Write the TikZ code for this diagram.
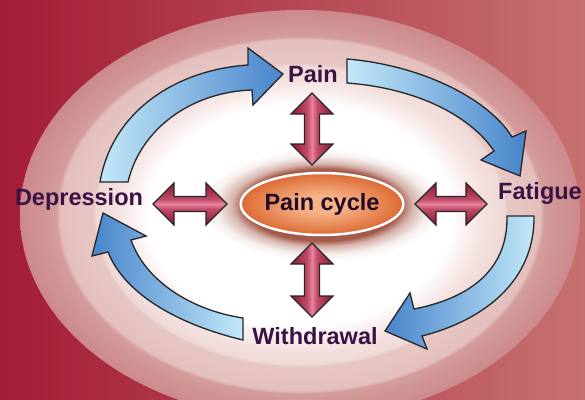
\documentclass[tikz,border=0pt]{standalone}
\usepackage{fontspec}
\setsansfont{Liberation Sans}
\usetikzlibrary{shapes.geometric}
\definecolor{ink}{HTML}{3A1244}
\definecolor{bgdark}{HTML}{A41C36}
\definecolor{bglight}{HTML}{C6716F}
\definecolor{ringA}{HTML}{D39C9B}
\definecolor{ringB}{HTML}{E6C6C3}
\definecolor{ringC}{HTML}{F3E1DF}
\definecolor{bluelt}{HTML}{C2E8F8}
\definecolor{bluedk}{HTML}{4784CB}
\definecolor{reddk}{HTML}{9C1F3C}
\definecolor{redpk}{HTML}{E8829F}
\definecolor{cycA}{HTML}{F6B286}
\definecolor{cycB}{HTML}{DC6A34}
\definecolor{halo}{HTML}{A45A4A}

% soft rings behind the cycle (path box = +-25bp)
\pgfdeclareradialshading{rings}{\pgfpoint{0bp}{0bp}}{%
  color(0bp)=(white); color(13.5bp)=(white); color(16.5bp)=(ringC);
  color(18.2bp)=(ringC!70!ringB); color(18.5bp)=(ringB); color(21.4bp)=(ringB!85!ringA);
  color(21.8bp)=(ringA); color(25bp)=(ringA!85!bgdark); color(50bp)=(ringA!85!bgdark)}
\pgfdeclareradialshading{cychalo}{\pgfpoint{0bp}{0bp}}{%
  color(0bp)=(halo); color(16bp)=(halo); color(18.5bp)=(halo!45!white);
  color(22bp)=(halo!10!white); color(25bp)=(white); color(50bp)=(white)}
\pgfdeclareradialshading{cycball}{\pgfpoint{0bp}{0bp}}{%
  color(0bp)=(cycA); color(7bp)=(cycA); color(25bp)=(cycB); color(50bp)=(cycB)}
% dark edges, pink stripe along the axis (path box = 25bp..75bp)
\pgfdeclarehorizontalshading{redbar}{100bp}{%
  color(0bp)=(reddk); color(29bp)=(reddk); color(44bp)=(reddk!55!redpk);
  color(50bp)=(redpk); color(56bp)=(reddk!55!redpk); color(71bp)=(reddk);
  color(100bp)=(reddk)}

\begin{document}
\begin{tikzpicture}[x=1pt, y=-1pt,
  lbl/.style={font=\sffamily\bfseries\fontsize{23.5}{28}\selectfont, text=ink, inner sep=1pt},
  bluearr/.style={draw=black!85, line width=1.3pt, line join=miter},
  redarr/.style={draw=black!85, line width=1.2pt, line join=miter, shading=redbar},
  redh/.style={redarr, shading angle=90},
  redv/.style={redarr, shading angle=0},
]
\useasboundingbox (0,0) rectangle (585,399);

% ---------- background ----------
\begin{scope}
  \clip (0,0) rectangle (585,399);
  \shade[left color=bgdark, right color=bglight] (0,0) rectangle (585,399);
  \shade[shading=rings] (300,215) ellipse [x radius=280pt, y radius=205pt];
\end{scope}
\shade[shading=cychalo] (322,205) ellipse [x radius=122pt, y radius=56pt];

% ---------- labels ----------
\node[lbl] (pain) at (313,74) {Pain};
\node[lbl] (fat) at (540,193) {Fatigue};
\node[lbl] (wd) at (315,336) {Withdrawal};
\node[lbl] (dep) at (79,199) {Depression};
\node[lbl, ellipse, draw=white, line width=2.5pt, shade, shading=cycball,
  minimum width=162pt, minimum height=62pt, inner sep=0pt, text=ink!55!black]
  (cyc) at (322,204) {Pain cycle};

% ---------- double arrows to the centre ----------
\shade[redv, shift={(312,129)}]
  (0,-36) -- (21,-15) -- (7.5,-15) -- (7.5,15) -- (21,15) -- (0,36)
  -- (-21,15) -- (-7.5,15) -- (-7.5,-15) -- (-21,-15) -- cycle;
\shade[redv, shift={(312,280)}]
  (0,-37) -- (21,-16) -- (7.5,-16) -- (7.5,16) -- (21,16) -- (0,37)
  -- (-21,16) -- (-7.5,16) -- (-7.5,-16) -- (-21,-16) -- cycle;
\shade[redh, shift={(190,204)}]
  (-37,0) -- (-16,-21) -- (-16,-7.5) -- (16,-7.5) -- (16,-21) -- (37,0)
  -- (16,21) -- (16,7.5) -- (-16,7.5) -- (-16,21) -- cycle;
\shade[redh, shift={(451,204)}]
  (-36,0) -- (-15,-21) -- (-15,-7.5) -- (15,-7.5) -- (15,-21) -- (36,0)
  -- (15,21) -- (15,7.5) -- (-15,7.5) -- (-15,21) -- cycle;

% ---------- the cycle ----------
% depression -> pain
\shade[bluearr, left color=bluelt, right color=bluedk]
  (100,182) .. controls (112,112) and (175,70) .. (248,65)
  -- (248,48) -- (283,74) -- (253,105) -- (252,90)
  .. controls (190,92) and (140,130) .. (128,182) -- cycle;
% pain -> fatigue
\shade[bluearr, left color=bluelt, right color=bluedk]
  (347,59) .. controls (420,65) and (488,98) .. (512,137)
  -- (526,131) -- (520,176) -- (481,160) -- (494,151)
  .. controls (470,115) and (415,88) .. (347,83) -- cycle;
% fatigue -> withdrawal
\shade[bluearr, left color=bluedk, right color=bluelt]
  (534,216) .. controls (535,280) and (485,320) .. (422,336)
  -- (427,349) -- (385,331) -- (410,293) -- (414,309)
  .. controls (480,296) and (508,262) .. (507,216) -- cycle;
% withdrawal -> depression
\shade[bluearr, left color=bluedk, right color=bluelt]
  (243,340) .. controls (180,325) and (125,295) .. (108,252)
  -- (92,256) -- (103,213) -- (146,236) -- (131,240)
  .. controls (145,280) and (190,310) .. (243,318) -- cycle;
\end{tikzpicture}
\end{document}
